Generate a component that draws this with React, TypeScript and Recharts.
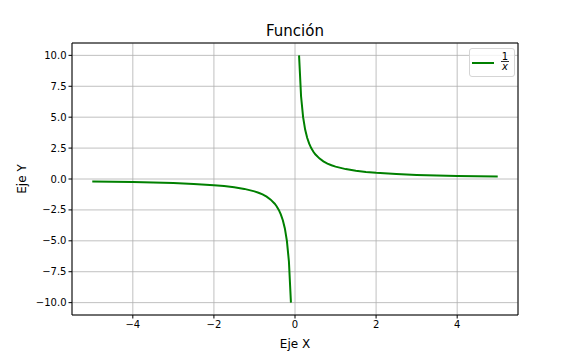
import {
  LineChart,
  Line,
  XAxis,
  YAxis,
  CartesianGrid,
  ReferenceArea,
} from 'recharts';

// values, left branch (x < 0)
const leftX = [-5, -4.5, -4, -3.5, -3, -2.5, -2, -1.75, -1.5, -1.25, -1, -0.9, -0.8, -0.7, -0.6, -0.5, -0.45, -0.4, -0.35, -0.3, -0.25, -0.2, -0.15, -0.1];
const leftY = [-0.2, -0.22, -0.25, -0.29, -0.33, -0.4, -0.5, -0.57, -0.67, -0.8, -1, -1.11, -1.25, -1.43, -1.67, -2, -2.22, -2.5, -2.86, -3.33, -4, -5, -6.67, -10];

// right branch (x > 0)
const rightX = [0.1, 0.15, 0.2, 0.25, 0.3, 0.35, 0.4, 0.45, 0.5, 0.6, 0.7, 0.8, 0.9, 1, 1.25, 1.5, 1.75, 2, 2.5, 3, 3.5, 4, 4.5, 5];
const rightY = [10, 6.67, 5, 4, 3.33, 2.86, 2.5, 2.22, 2, 1.67, 1.43, 1.25, 1.11, 1, 0.8, 0.67, 0.57, 0.5, 0.4, 0.33, 0.29, 0.25, 0.22, 0.2];

const xTicks = [-4, -2, 0, 2, 4];
const yTicks = [-10, -7.5, -5, -2.5, 0, 2.5, 5, 7.5, 10];

const leftData = leftX.map((x, i) => ({ x, y: leftY[i] }));
const rightData = rightX.map((x, i) => ({ x, y: rightY[i] }));

const GREEN = '#008000';
const GRID = '#b0b0b0';
const FONT = '"DejaVu Sans", sans-serif';

const fmtX = (v: number) => (v < 0 ? `\u2212${Math.abs(v)}` : `${v}`);
const fmtY = (v: number) => (v < 0 ? `\u2212${Math.abs(v).toFixed(1)}` : v.toFixed(1));

export default function App() {
  return (
    <div style={{ position: 'absolute', left: 0, top: 0, width: 576, height: 360, background: '#fff', fontFamily: FONT }}>
      <div
        style={{
          position: 'absolute',
          left: 72,
          width: 446,
          top: 22,
          textAlign: 'center',
          fontSize: 15,
          lineHeight: '18px',
          color: '#000',
        }}
      >
        Función
      </div>
      <LineChart width={576} height={360} margin={{ top: 43, right: 58, left: 0, bottom: 0 }}>
        <CartesianGrid stroke={GRID} strokeWidth={0.8} />
        <XAxis
          type="number"
          dataKey="x"
          domain={[-5.5, 5.5]}
          ticks={xTicks}
          tickFormatter={fmtX}
          height={45}
          tickSize={3.5}
          tickMargin={2}
          tick={{ fontSize: 10, fill: '#000', fontFamily: FONT }}
          axisLine={false}
          tickLine={{ stroke: '#000' }}
          allowDataOverflow
          label={{ value: 'Eje X', position: 'insideBottom', offset: 12, style: { fontSize: 12, fill: '#000', fontFamily: FONT } }}
        />
        <YAxis
          type="number"
          domain={[-11, 11]}
          ticks={yTicks}
          tickFormatter={fmtY}
          width={72}
          tickSize={3.5}
          tickMargin={2}
          tick={{ fontSize: 10, fill: '#000', fontFamily: FONT }}
          axisLine={false}
          tickLine={{ stroke: '#000' }}
          allowDataOverflow
          label={{ value: 'Eje Y', angle: -90, position: 'insideLeft', offset: 22, style: { fontSize: 12, fill: '#000', fontFamily: FONT, textAnchor: 'middle' } }}
        />
        <ReferenceArea x1={-5.5} x2={5.5} y1={-11} y2={11} fill="none" stroke="#000" strokeWidth={1} />
        <Line data={leftData} dataKey="y" type="linear" stroke={GREEN} strokeWidth={2} dot={false} isAnimationActive={false} />
        <Line data={rightData} dataKey="y" type="linear" stroke={GREEN} strokeWidth={2} dot={false} isAnimationActive={false} />
      </LineChart>
      <div
        style={{
          position: 'absolute',
          left: 469,
          top: 48,
          width: 46,
          height: 29,
          border: '1px solid #d5d5d5',
          borderRadius: 3,
          background: 'rgba(255,255,255,0.8)',
          boxSizing: 'border-box',
        }}
      >
        <svg width={46} height={29} style={{ position: 'absolute', left: -1, top: -1 }}>
          <line x1={3} x2={25} y1={15} y2={15} stroke={GREEN} strokeWidth={2} />
          <text x={36} y={12} fontSize={10} textAnchor="middle" fontFamily={FONT} fill="#000">1</text>
          <line x1={32} x2={40} y1={13.5} y2={13.5} stroke="#000" strokeWidth={0.8} />
          <text x={36} y={22} fontSize={10} textAnchor="middle" fontFamily={FONT} fontStyle="italic" fill="#000">x</text>
        </svg>
      </div>
    </div>
  );
}
